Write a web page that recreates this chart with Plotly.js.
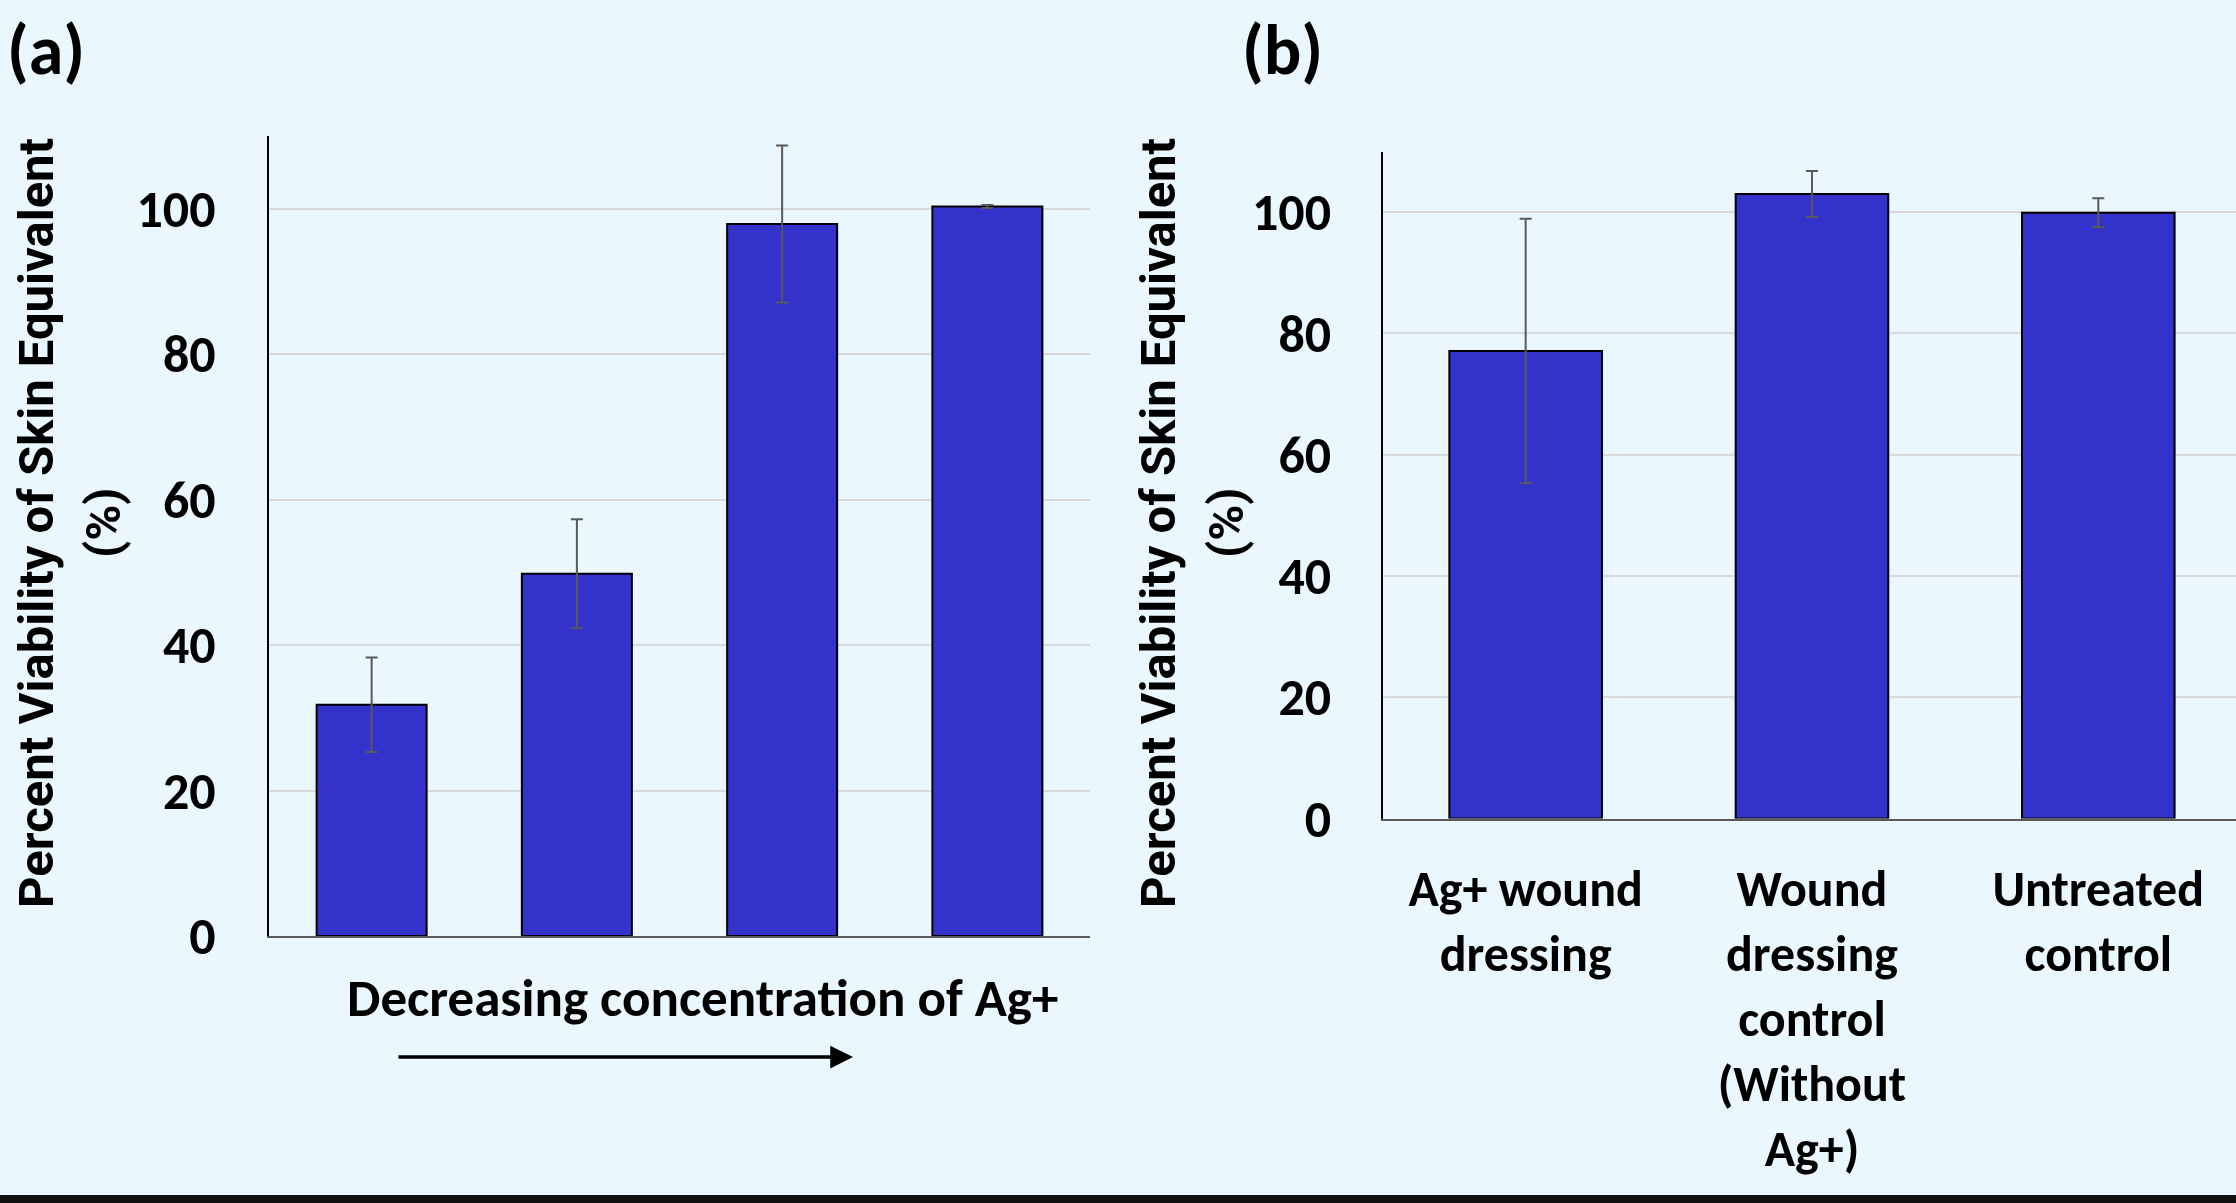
<!DOCTYPE html>
<html>
<head>
<meta charset="utf-8">
<script src="https://cdn.plot.ly/plotly-3.0.1.min.js"></script>
<style>
  html, body { margin: 0; padding: 0; background: #EAF7FE; overflow: hidden; }
  #chart { width: 2236px; height: 1203px; }
</style>
</head>
<body>
<div id="chart"></div>
<script>
// ---- Data ----
const catsA = ["C1", "C2", "C3", "C4"];           // decreasing Ag+ concentration (unlabeled in figure)
const valsA = [31.8, 49.8, 97.9, 100.3];
const errA  = [6.5, 7.5, 10.8, 0.2];

const catsB = ["Ag+ wound<br>dressing", "Wound<br>dressing<br>control<br>(Without<br>Ag+)", "Untreated<br>control"];
const valsB = [77.1, 103.0, 99.9];
const errB  = [21.8, 3.8, 2.4];

const yTicks = [0, 20, 40, 60, 80, 100];

// ---- Styling ----
const W = 2236, H = 1203;
const px = x => x / W;
const py = y => 1 - y / H;
const bg = "#EAF7FE";
const barColor = "#3333CC";
const calibri = "Carlito, Lato, sans-serif";
const verdana = "Roboto, 'DejaVu Sans', sans-serif";

const traces = [
  {
    type: "bar", x: catsA, y: valsA, xaxis: "x", yaxis: "y",
    marker: { color: barColor, line: { color: "#000000", width: 2 } },
    error_y: { type: "data", array: errA, visible: true, color: "#595959", thickness: 2, width: 6 },
    width: 0.536, hoverinfo: "x+y"
  },
  {
    type: "bar", x: catsB, y: valsB, xaxis: "x2", yaxis: "y2",
    marker: { color: barColor, line: { color: "#000000", width: 2 } },
    error_y: { type: "data", array: errB, visible: true, color: "#595959", thickness: 2, width: 6 },
    width: 0.533, hoverinfo: "x+y"
  }
];

const yaxisCommon = {
  range: [0, 110],
  tickvals: yTicks,
  ticktext: yTicks.map(String),
  showgrid: true, gridcolor: "#D9D9D9", gridwidth: 2,
  zeroline: false,
  showline: true, linecolor: "#000000", linewidth: 2,
  ticks: "",
  tickfont: { family: calibri, size: 52, color: "#000000", weight: "bold" },
  fixedrange: true
};

const layout = {
  width: W, height: H,
  margin: { l: 0, r: 0, t: 0, b: 0, pad: 0 },
  paper_bgcolor: bg, plot_bgcolor: bg,
  showlegend: false,
  bargap: 0.46,
  xaxis: {
    domain: [px(269), px(1090)],
    range: [-0.5, 3.5],
    showticklabels: false, ticks: "",
    showline: true, linecolor: "#595959", linewidth: 2,
    showgrid: false, zeroline: false, fixedrange: true
  },
  yaxis: Object.assign({}, yaxisCommon, { domain: [py(936), py(136)], anchor: "x", ticklabelstandoff: 41 }),
  xaxis2: {
    domain: [px(1382.5), 1],
    range: [-0.5, 2.481],
    anchor: "y2",
    ticks: "", ticklabelstandoff: 25,
    tickfont: { family: calibri, size: 50, color: "#000000", weight: "bold" },
    showline: true, linecolor: "#595959", linewidth: 2,
    showgrid: false, zeroline: false, fixedrange: true
  },
  yaxis2: Object.assign({}, yaxisCommon, { domain: [py(818.5), py(151.5)], anchor: "x2", ticklabelstandoff: 39 }),
  annotations: [
    { text: "(a)", xref: "paper", yref: "paper", x: px(46), y: py(50), showarrow: false,
      xanchor: "center", yanchor: "middle", font: { family: calibri, size: 70, color: "#000", weight: "bold" } },
    { text: "(b)", xref: "paper", yref: "paper", x: px(1282), y: py(50), showarrow: false,
      xanchor: "center", yanchor: "middle", font: { family: calibri, size: 70, color: "#000", weight: "bold" } },
    // Y-axis titles (panel a)
    { text: "Percent Viability of Skin Equivalent", xref: "paper", yref: "paper", x: px(36), y: py(523),
      textangle: -90, showarrow: false, xanchor: "center", yanchor: "middle",
      font: { family: verdana, size: 49, color: "#000", weight: "bold" } },
    { text: "(%)", xref: "paper", yref: "paper", x: px(103), y: py(523),
      textangle: -90, showarrow: false, xanchor: "center", yanchor: "middle",
      font: { family: verdana, size: 49, color: "#000", weight: "bold" } },
    // Y-axis titles (panel b)
    { text: "Percent Viability of Skin Equivalent", xref: "paper", yref: "paper", x: px(1158), y: py(523),
      textangle: -90, showarrow: false, xanchor: "center", yanchor: "middle",
      font: { family: verdana, size: 49, color: "#000", weight: "bold" } },
    { text: "(%)", xref: "paper", yref: "paper", x: px(1226), y: py(523),
      textangle: -90, showarrow: false, xanchor: "center", yanchor: "middle",
      font: { family: verdana, size: 49, color: "#000", weight: "bold" } },
    // X title panel a
    { text: "Decreasing concentration of Ag+", xref: "paper", yref: "paper", x: px(702), y: py(998),
      showarrow: false, xanchor: "center", yanchor: "middle",
      font: { family: calibri, size: 53, color: "#000", weight: "bold" } },
    // Arrow
    { text: "", xref: "paper", yref: "paper", x: px(853), y: py(1057), ax: 397 - 853, ay: 0,
      axref: "pixel", ayref: "pixel",
      showarrow: true, arrowhead: 2, arrowsize: 1.3, arrowwidth: 3.5, arrowcolor: "#000000", standoff: 0 }
  ],
  shapes: [
    { type: "rect", xref: "paper", yref: "paper", x0: 0, x1: 1, y0: py(1203), y1: py(1195),
      fillcolor: "#111111", line: { width: 0 } }
  ]
};

Plotly.newPlot("chart", traces, layout, { staticPlot: true, displayModeBar: false });
</script>
</body>
</html>
